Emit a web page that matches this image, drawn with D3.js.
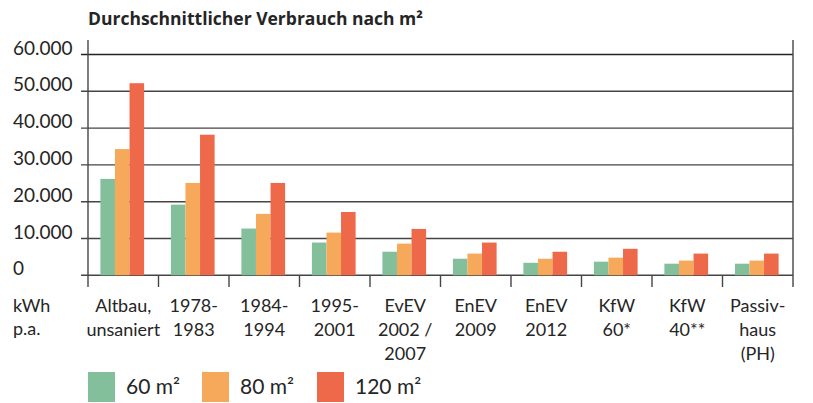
<!DOCTYPE html>
<html>
<head>
<meta charset="utf-8">
<script src="https://cdn.jsdelivr.net/npm/d3@7"></script>
<style>
    body { margin: 0; background: #fff; }
    svg text { font-family: Lato, "Open Sans", sans-serif; fill: #252525; }
</style>
</head>
<body>
<svg id="chart" width="813" height="403"></svg>
<script>
(function () {
    'use strict';

    var title = "Durchschnittlicher Verbrauch nach m\u00B2";
    var unitLines = ["kWh", "p.a."];

    var categories = [
        ["Altbau,", "unsaniert"],
        ["1978-", "1983"],
        ["1984-", "1994"],
        ["1995-", "2001"],
        ["EvEV", "2002 /", "2007"],
        ["EnEV", "2009"],
        ["EnEV", "2012"],
        ["KfW", "60*"],
        ["KfW", "40**"],
        ["Passiv-", "haus", "(PH)"]
    ];

    var seriesNames = ["60 m\u00B2", "80 m\u00B2", "120 m\u00B2"];
    var seriesColors = ["#82bf9a", "#f6a95a", "#ee694a"];

    var values60 = [26200, 19200, 12700, 8900, 6400, 4500, 3400, 3700, 3150, 3150];
    var values80 = [34300, 25100, 16700, 11600, 8600, 5900, 4500, 4800, 4000, 4000];
    var values120 = [52200, 38200, 25100, 17200, 12600, 8900, 6400, 7200, 5900, 5900];

    var yTicks = [0, 10000, 20000, 30000, 40000, 50000, 60000];

    var series = [values60, values80, values120];

    var de = d3.formatLocale({decimal: ",", thousands: ".", grouping: [3], currency: ["", " \u20AC"]});
    var fmt = de.format(",d");

    var svg = d3.select('#chart');

    var left = 88, right = 793, top = 54.5, base = 275.3;

    var x = d3.scaleBand()
        .domain(d3.range(categories.length))
        .range([left, right]);

    var y = d3.scaleLinear()
        .domain([0, 60000])
        .range([base, top]);

    var inner = d3.scaleBand()
        .domain(d3.range(series.length))
        .range([0, x.bandwidth() * 0.62]);

    var groupOffset = (x.bandwidth() - x.bandwidth() * 0.62) / 2 - 1;

    // title
    svg.append('text')
        .attr('x', left)
        .attr('y', 25)
        .style('font-family', '"Open Sans", Lato, sans-serif')
        .style('font-size', '17.5px')
        .style('font-weight', 'bold')
        .text(title);

    // gridlines
    svg.append('g').selectAll('line')
        .data(yTicks)
        .join('line')
        .attr('x1', left - 7)
        .attr('x2', right)
        .attr('y1', function (d) { return y(d); })
        .attr('y2', function (d) { return y(d); })
        .attr('stroke', function (d) { return d === 60000 ? '#222' : '#454545'; })
        .attr('stroke-width', 1.4);

    // tick labels
    svg.append('g').selectAll('text')
        .data(yTicks)
        .join('text')
        .attr('x', 13)
        .attr('y', function (d) { return y(d); })
        .style('font-size', '19px')
        .text(function (d) { return fmt(d); });

    // bars
    svg.append('g').selectAll('g')
        .data(series)
        .join('g')
        .attr('fill', function (d, i) { return seriesColors[i]; })
        .each(function (vals, si) {
            d3.select(this).selectAll('rect')
                .data(vals)
                .join('rect')
                .attr('x', function (d, ci) { return x(ci) + groupOffset + inner(si); })
                .attr('width', inner.bandwidth())
                .attr('y', function (d) { return y(d); })
                .attr('height', function (d) { return base - y(d); });
        });

    // frame lines
    svg.append('line')
        .attr('x1', left).attr('x2', left)
        .attr('y1', 40).attr('y2', 287)
        .attr('stroke', '#454545').attr('stroke-width', 1.4);
    svg.append('line')
        .attr('x1', right).attr('x2', right)
        .attr('y1', 40).attr('y2', 287)
        .attr('stroke', '#454545').attr('stroke-width', 1.4);

    // category separators below the baseline
    svg.append('g').selectAll('line')
        .data(d3.range(1, categories.length))
        .join('line')
        .attr('x1', function (d) { return x(d); })
        .attr('x2', function (d) { return x(d); })
        .attr('y1', base)
        .attr('y2', 287)
        .attr('stroke', '#454545')
        .attr('stroke-width', 1.4);

    // category labels
    svg.append('g').selectAll('text')
        .data(categories)
        .join('text')
        .attr('text-anchor', 'middle')
        .style('font-size', '18px')
        .each(function (lines, ci) {
            d3.select(this).selectAll('tspan')
                .data(lines)
                .join('tspan')
                .attr('x', x(ci) + x.bandwidth() / 2)
                .attr('y', function (d, li) { return 312 + li * 24; })
                .text(function (d) { return d; });
        });

    // unit label
    svg.append('text')
        .style('font-size', '18px')
        .selectAll('tspan')
        .data(unitLines)
        .join('tspan')
        .attr('x', 13)
        .attr('y', function (d, i) { return 312 + i * 23; })
        .text(function (d) { return d; });

    // legend
    var legendX = [88, 202, 317];
    var legend = svg.append('g').selectAll('g')
        .data(seriesNames)
        .join('g')
        .attr('transform', function (d, i) { return 'translate(' + legendX[i] + ',372)'; });

    legend.append('rect')
        .attr('width', 27)
        .attr('height', 30)
        .attr('fill', function (d, i) { return seriesColors[i]; });

    legend.append('text')
        .attr('x', 38)
        .attr('y', 21.5)
        .style('font-size', '21px')
        .text(function (d) { return d; });
}());
</script>
</body>
</html>
